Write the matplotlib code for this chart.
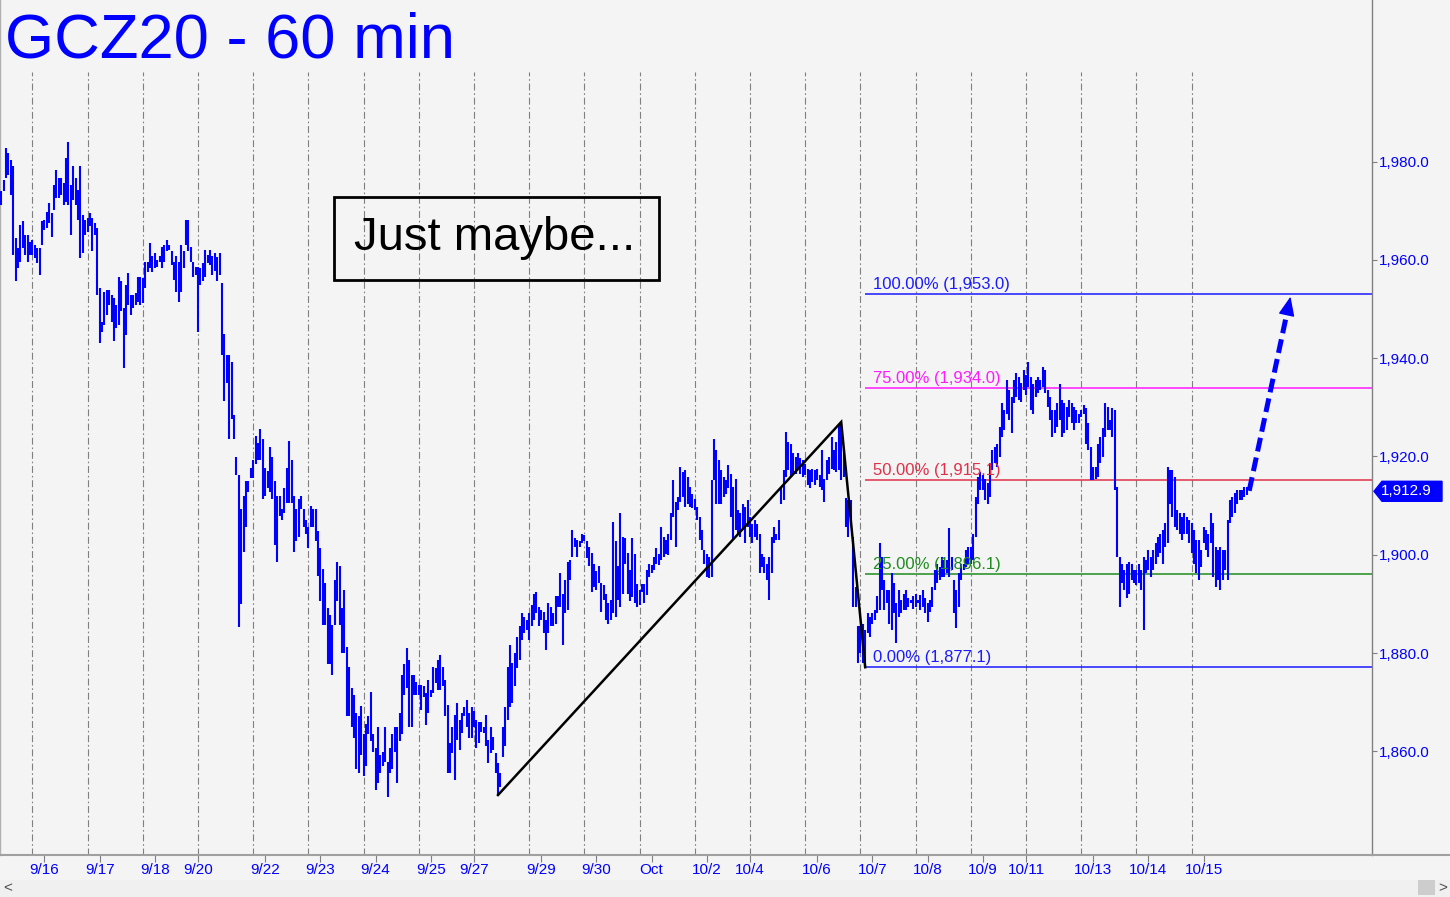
import matplotlib
matplotlib.use('Agg')
import matplotlib.pyplot as plt
import matplotlib.transforms as mtransforms
from matplotlib.ticker import FuncFormatter
from matplotlib.patches import Polygon, Rectangle
from matplotlib.lines import Line2D

plt.rcParams['font.family'] = ['Liberation Sans', 'DejaVu Sans']
plt.rcParams['lines.scale_dashes'] = False

# ---------------- data ----------------
title = "GCZ20 - 60 min"
note = "Just maybe..."

high = [
    1973.9, 1976.2, 1982.7, 1981.7, 1980.3, 1979.0, 1964.4, 1962.4, 1967.1, 1967.9,
    1965.1, 1965.1, 1963.7, 1964.0, 1963.0, 1962.4, 1962.4, 1967.8, 1968.1, 1969.8,
    1971.5, 1969.5, 1975.2, 1978.3, 1976.6, 1976.6, 1975.6, 1980.7, 1984.0, 1975.2,
    1979.0, 1976.6, 1974.2, 1979.0, 1969.1, 1968.1, 1968.5, 1969.5, 1968.5, 1967.4,
    1966.4, 1954.2, 1947.4, 1953.5, 1953.9, 1953.9, 1952.9, 1952.2, 1950.8, 1956.6,
    1955.6, 1950.1, 1954.9, 1957.3, 1952.9, 1952.9, 1953.2, 1956.6, 1956.6, 1956.2,
    1959.6, 1959.6, 1963.4, 1960.7, 1961.3, 1960.0, 1960.7, 1962.7, 1963.0, 1964.0,
    1963.0, 1961.7, 1959.6, 1960.7, 1959.6, 1963.0, 1961.7, 1968.1, 1968.1, 1962.7,
    1959.6, 1958.6, 1958.6, 1958.3, 1959.3, 1962.0, 1961.0, 1962.0, 1960.7, 1961.3,
    1960.6, 1961.3, 1955.2, 1944.9, 1940.6, 1940.6, 1939.2, 1928.5, 1919.9, 1916.3,
    1909.2, 1912.0, 1914.9, 1914.9, 1917.7, 1919.2, 1924.2, 1922.7, 1925.6, 1923.5,
    1917.7, 1917.0, 1922.0, 1919.9, 1914.9, 1912.0, 1912.0, 1909.2, 1913.5, 1917.7,
    1923.1, 1919.2, 1912.0, 1909.2, 1911.3, 1912.0, 1909.2, 1907.0, 1905.6, 1909.9,
    1909.2, 1909.2, 1904.9, 1901.3, 1897.0, 1894.2, 1889.2, 1887.8, 1885.6, 1894.9,
    1898.5, 1897.8, 1889.2, 1892.8, 1881.3, 1877.1, 1872.8, 1871.4, 1867.8, 1867.1,
    1869.2, 1863.5, 1865.6, 1867.1, 1872.1, 1863.5, 1860.6, 1864.9, 1859.2, 1859.9,
    1864.9, 1857.8, 1860.6, 1863.5, 1864.9, 1864.9, 1867.8, 1875.6, 1877.8, 1881.0,
    1878.5, 1875.6, 1875.6, 1874.2, 1873.5, 1873.5, 1873.2, 1871.8, 1874.5, 1872.5,
    1877.2, 1876.9, 1878.6, 1879.6, 1877.2, 1874.5, 1869.4, 1861.6, 1865.0, 1867.4,
    1869.8, 1866.4, 1867.7, 1869.1, 1870.4, 1867.7, 1869.1, 1868.1, 1866.4, 1866.0,
    1866.0, 1865.0, 1867.4, 1862.3, 1865.0, 1863.0, 1859.6, 1857.6, 1855.5, 1865.0,
    1869.1, 1877.2, 1881.6, 1877.9, 1879.9, 1883.3, 1885.4, 1888.1, 1887.4, 1886.7,
    1888.1, 1889.8, 1892.1, 1892.5, 1889.4, 1888.8, 1888.4, 1886.7, 1890.1, 1889.4,
    1888.1, 1891.5, 1891.5, 1896.2, 1892.1, 1894.9, 1898.6, 1898.9, 1905.0, 1903.3,
    1903.0, 1902.7, 1904.3, 1904.0, 1902.7, 1901.6, 1900.3, 1898.2, 1896.6, 1897.6,
    1894.2, 1893.8, 1892.1, 1890.1, 1890.8, 1906.7, 1902.7, 1897.6, 1908.4, 1903.7,
    1903.3, 1900.3, 1896.9, 1903.3, 1900.2, 1894.1, 1892.8, 1894.1, 1894.1, 1896.9,
    1898.2, 1897.9, 1899.6, 1901.3, 1900.2, 1905.7, 1903.6, 1903.0, 1904.3, 1908.4,
    1915.2, 1910.8, 1911.8, 1917.9, 1916.9, 1917.2, 1915.8, 1913.8, 1912.4, 1911.4,
    1909.7, 1907.7, 1905.0, 1900.9, 1900.2, 1899.6, 1915.2, 1923.6, 1921.3, 1919.2,
    1917.2, 1915.8, 1915.2, 1918.2, 1916.5, 1913.8, 1915.5, 1909.1, 1908.4, 1910.4,
    1909.7, 1911.1, 1907.7, 1906.3, 1907.0, 1906.3, 1904.3, 1900.2, 1899.6, 1898.2,
    1899.6, 1903.6, 1905.7, 1904.3, 1907.0, 1913.8, 1917.2, 1925.0, 1923.0, 1922.6,
    1920.6, 1919.9, 1920.6, 1919.6, 1919.2, 1918.5, 1917.5, 1917.2, 1917.5, 1917.2,
    1917.5, 1916.2, 1921.3, 1915.5, 1919.2, 1919.9, 1924.0, 1921.3, 1923.0, 1926.4,
    1927.0, 1921.3, 1911.5, 1911.1, 1911.1, 1903.7, 1893.5, 1885.4, 1885.4, 1886.0,
    1884.7, 1888.1, 1887.4, 1888.1, 1888.7, 1891.5, 1902.3, 1899.6, 1894.8, 1892.8,
    1892.8, 1896.2, 1894.2, 1890.1, 1892.8, 1890.8, 1892.1, 1892.8, 1891.1, 1890.8,
    1891.5, 1892.1, 1890.8, 1891.8, 1892.8, 1891.1, 1890.1, 1890.8, 1893.5, 1896.9,
    1898.2, 1897.5, 1899.6, 1898.9, 1898.9, 1905.4, 1899.6, 1894.8, 1892.8, 1896.2,
    1898.2, 1898.2, 1901.0, 1901.6, 1901.6, 1904.3, 1911.8, 1915.9, 1916.9, 1916.2,
    1915.5, 1914.5, 1918.6, 1921.3, 1922.0, 1922.6, 1926.0, 1930.8, 1929.4, 1935.5,
    1933.5, 1932.1, 1935.5, 1936.9, 1936.2, 1935.0, 1937.6, 1936.5, 1939.3, 1936.2,
    1934.8, 1935.5, 1936.2, 1935.5, 1938.2, 1937.6, 1933.5, 1932.1, 1929.4, 1929.4,
    1930.8, 1934.8, 1931.5, 1930.8, 1930.1, 1931.5, 1930.8, 1930.1, 1929.4, 1928.7,
    1929.4, 1930.4, 1929.8, 1926.7, 1922.0, 1917.9, 1917.9, 1922.6, 1924.0, 1925.7,
    1930.8, 1930.1, 1927.4, 1929.8, 1929.4, 1913.8, 1899.6, 1898.2, 1896.9, 1898.2,
    1898.6, 1898.2, 1896.9, 1896.9, 1898.2, 1896.9, 1899.6, 1898.9, 1900.9, 1899.6,
    1900.9, 1902.3, 1903.7, 1904.3, 1905.0, 1906.4, 1917.9, 1917.2, 1917.2, 1915.9,
    1909.1, 1908.4, 1907.7, 1908.4, 1907.7, 1907.1, 1906.4, 1905.0, 1903.0, 1903.0,
    1900.9, 1905.7, 1905.0, 1904.3, 1908.4, 1906.4, 1901.6, 1900.9, 1901.6, 1900.9,
    1900.9, 1907.1, 1911.1, 1911.8, 1912.5, 1913.1, 1913.1, 1913.1, 1913.8, 1913.8,
]

low = [
    1971.2, 1973.9, 1976.6, 1977.3, 1973.2, 1961.0, 1955.6, 1958.3, 1959.6, 1962.4,
    1961.0, 1959.6, 1961.0, 1961.0, 1960.3, 1959.3, 1956.9, 1963.0, 1966.1, 1966.4,
    1967.4, 1964.7, 1970.2, 1972.5, 1972.5, 1973.2, 1971.2, 1971.8, 1971.2, 1965.1,
    1972.2, 1971.2, 1968.1, 1960.3, 1961.3, 1965.1, 1965.7, 1966.8, 1961.7, 1965.1,
    1952.9, 1943.0, 1945.4, 1946.8, 1948.8, 1950.8, 1947.4, 1943.4, 1946.1, 1946.8,
    1949.5, 1937.9, 1944.7, 1950.8, 1948.8, 1950.1, 1950.8, 1951.5, 1950.8, 1951.2,
    1954.2, 1957.6, 1958.3, 1957.6, 1958.3, 1958.6, 1959.6, 1958.3, 1959.6, 1961.7,
    1962.0, 1959.0, 1955.9, 1953.5, 1951.5, 1953.5, 1958.3, 1963.0, 1961.7, 1959.6,
    1956.6, 1956.9, 1945.4, 1954.9, 1955.6, 1956.6, 1959.3, 1959.0, 1956.9, 1957.7,
    1955.6, 1957.0, 1940.6, 1931.3, 1934.9, 1923.5, 1927.7, 1923.5, 1916.3, 1885.3,
    1889.9, 1900.6, 1905.6, 1912.8, 1915.6, 1915.6, 1918.5, 1919.2, 1919.2, 1911.3,
    1912.0, 1913.5, 1912.8, 1911.3, 1902.0, 1898.5, 1907.8, 1907.0, 1908.5, 1910.6,
    1910.6, 1910.6, 1900.6, 1902.8, 1903.5, 1909.2, 1905.6, 1904.2, 1901.3, 1905.6,
    1905.6, 1902.8, 1895.6, 1890.6, 1885.6, 1885.6, 1877.8, 1877.8, 1875.6, 1885.6,
    1890.6, 1885.6, 1879.9, 1879.9, 1867.1, 1867.1, 1864.9, 1862.8, 1856.4, 1855.6,
    1859.2, 1854.9, 1857.1, 1863.5, 1862.1, 1859.9, 1852.1, 1853.5, 1855.6, 1857.1,
    1857.8, 1850.7, 1855.6, 1856.4, 1859.9, 1853.5, 1862.1, 1863.5, 1871.4, 1872.8,
    1864.9, 1864.9, 1871.4, 1871.4, 1871.4, 1868.5, 1871.1, 1865.4, 1867.7, 1871.1,
    1871.8, 1873.8, 1872.5, 1872.5, 1873.2, 1867.1, 1855.5, 1855.5, 1859.6, 1854.2,
    1862.3, 1860.3, 1863.7, 1867.1, 1865.0, 1862.7, 1862.7, 1865.0, 1860.6, 1861.6,
    1864.0, 1863.7, 1861.0, 1857.6, 1859.6, 1860.3, 1855.5, 1851.1, 1852.8, 1858.9,
    1861.0, 1866.4, 1869.1, 1869.8, 1873.2, 1876.9, 1878.6, 1882.7, 1884.0, 1884.7,
    1882.7, 1885.4, 1886.7, 1888.1, 1885.4, 1886.7, 1884.0, 1880.6, 1884.0, 1885.4,
    1885.4, 1886.0, 1889.4, 1889.4, 1881.6, 1888.1, 1888.8, 1894.9, 1899.6, 1901.6,
    1899.6, 1901.6, 1902.3, 1902.7, 1899.3, 1897.6, 1892.5, 1893.5, 1892.8, 1894.2,
    1888.4, 1890.8, 1886.7, 1886.0, 1886.7, 1888.1, 1887.4, 1890.8, 1889.4, 1892.1,
    1898.2, 1892.1, 1890.5, 1891.4, 1890.1, 1889.4, 1889.7, 1892.5, 1890.1, 1891.8,
    1895.5, 1896.2, 1896.9, 1898.2, 1897.9, 1898.9, 1899.6, 1900.2, 1899.9, 1903.0,
    1907.7, 1901.6, 1909.1, 1910.8, 1911.8, 1909.7, 1910.4, 1909.7, 1909.4, 1909.1,
    1907.0, 1903.0, 1900.9, 1898.2, 1895.5, 1895.2, 1895.5, 1915.2, 1910.4, 1910.4,
    1910.4, 1911.8, 1912.4, 1913.5, 1907.7, 1903.0, 1905.0, 1904.3, 1903.6, 1905.0,
    1902.3, 1905.7, 1903.6, 1902.3, 1903.6, 1903.0, 1896.2, 1897.5, 1896.2, 1894.8,
    1890.8, 1896.2, 1902.3, 1903.0, 1903.0, 1910.4, 1911.1, 1915.8, 1917.2, 1915.8,
    1916.2, 1916.5, 1917.5, 1916.5, 1915.8, 1916.2, 1914.1, 1913.5, 1914.8, 1914.1,
    1915.2, 1913.8, 1913.1, 1910.8, 1915.2, 1916.5, 1917.5, 1917.2, 1916.9, 1917.2,
    1915.2, 1915.9, 1905.7, 1903.7, 1906.4, 1889.4, 1889.4, 1877.9, 1880.0, 1877.9,
    1877.1, 1884.0, 1883.3, 1886.0, 1886.7, 1888.1, 1888.7, 1892.8, 1888.7, 1890.1,
    1886.0, 1884.7, 1888.1, 1882.0, 1887.4, 1888.1, 1888.7, 1888.7, 1889.4, 1890.1,
    1889.0, 1889.4, 1890.1, 1888.7, 1889.4, 1888.1, 1886.4, 1888.4, 1889.4, 1892.8,
    1894.2, 1894.8, 1895.5, 1895.5, 1896.2, 1895.5, 1896.9, 1888.1, 1885.0, 1889.4,
    1894.8, 1896.9, 1897.5, 1898.2, 1898.2, 1898.9, 1903.7, 1910.4, 1913.2, 1913.2,
    1911.1, 1910.4, 1911.8, 1917.2, 1918.6, 1917.9, 1919.9, 1924.0, 1925.4, 1928.7,
    1927.4, 1924.7, 1930.8, 1932.1, 1931.5, 1931.0, 1933.5, 1932.5, 1934.2, 1929.4,
    1928.7, 1932.1, 1932.8, 1933.5, 1934.2, 1932.8, 1930.1, 1927.4, 1924.0, 1924.7,
    1926.0, 1927.4, 1924.0, 1924.7, 1925.4, 1928.1, 1926.7, 1925.4, 1926.7, 1926.7,
    1928.1, 1928.7, 1922.6, 1921.3, 1915.2, 1915.2, 1915.5, 1915.9, 1918.6, 1919.9,
    1924.0, 1925.4, 1925.4, 1924.0, 1913.1, 1899.6, 1889.4, 1894.2, 1892.8, 1891.1,
    1892.1, 1894.8, 1894.2, 1893.8, 1894.2, 1892.8, 1884.7, 1896.2, 1896.9, 1895.5,
    1896.9, 1898.2, 1899.6, 1900.3, 1898.2, 1901.6, 1902.3, 1910.4, 1907.7, 1905.7,
    1905.0, 1904.3, 1903.0, 1904.3, 1904.3, 1902.3, 1900.3, 1898.2, 1896.2, 1894.8,
    1897.5, 1902.3, 1900.9, 1899.6, 1902.3, 1895.5, 1893.5, 1894.8, 1892.8, 1894.8,
    1896.9, 1894.8, 1906.4, 1907.7, 1908.4, 1910.4, 1911.1, 1911.1, 1911.8, 1912.2,
]

last_price = 1912.9

date_pos = [18, 41, 64, 82, 110, 133, 156, 179, 197, 225, 248, 271, 294, 312,
            340, 363, 386, 409, 427, 455, 478, 501]
date_lbl = ['9/16', '9/17', '9/18', '9/20', '9/22', '9/23', '9/24', '9/25', '9/27',
            '9/29', '9/30', 'Oct', '10/2', '10/4', '10/6', '10/7', '10/8', '10/9',
            '10/11', '10/13', '10/14', '10/15']
grid_pos = [13 + 23 * k for k in range(22)]

price_ticks = [1860, 1880, 1900, 1920, 1940, 1960, 1980]

abc_x = [207, 350, 360]
abc_p = [1851.1, 1927.0, 1877.1]

fib_pct = ['100.00%', '75.00%', '50.00%', '25.00%', '0.00%']
fib_val = [1953.0, 1934.0, 1915.1, 1896.1, 1877.1]
fib_col = ['#1A1AFF', '#FF1AFF', '#E03048', '#1E8C1E', '#1A1AFF']

proj_x = [520.0, 535.7, 537.2]
proj_p = [1913.0, 1949.1, 1952.5]

# ---------------- layout ----------------
W, H = 1450, 897
BG = '#F4F4F4'
BLUE = '#0000FF'
fig = plt.figure(figsize=(W / 100, H / 100), dpi=100)
fig.patch.set_facecolor(BG)

ax_bottom_px = 855
ax_right_px = 1372
ax = fig.add_axes([0, (H - ax_bottom_px) / H, ax_right_px / W, ax_bottom_px / H])
ax.set_facecolor(BG)

# px per bar = 2.4, px per price unit = 4.915
x_left = -0.5
x_right = (ax_right_px - 1.2) / 2.4
y_top = 1980 + 161.5 / 4.915
y_bot = 1980 - (ax_bottom_px - 161.5) / 4.915
ax.set_xlim(x_left, x_right)
ax.set_ylim(y_bot, y_top)

# grid (vertical dashed)
grid_top = 1980 + (161.5 - 72) / 4.915
ax.vlines(grid_pos, y_bot, grid_top, colors='#808080', linewidth=0.8,
          linestyles=(0, (5, 2, 1.2, 2)), zorder=1)

# price bars
ax.vlines(range(len(high)), low, high, colors=BLUE, linewidth=1.5, zorder=3)

# ABC lines
ax.plot(abc_x, abc_p, color='black', linewidth=1.8, zorder=4, solid_joinstyle='miter')

# fib projection lines
lbl_off = mtransforms.offset_copy(ax.transData, fig=fig, x=0, y=5, units='dots')
for pct, v, c in zip(fib_pct, fib_val, fib_col):
    ax.hlines(v, abc_x[2], x_right, colors=c, linewidth=1.1, zorder=2)
    ax.text(abc_x[2] + 3.2, v, f"{pct} ({v:,.1f})", color=c, fontsize=12,
            va='baseline', ha='left', transform=lbl_off, zorder=5)

# projected dashed arrow
ax.plot(proj_x[:2], proj_p[:2], color=BLUE, linewidth=3.6,
        linestyle=(0, (10, 4.5)), dash_capstyle='butt', zorder=6)
ax.annotate('', xy=(proj_x[2], proj_p[2]), xytext=(proj_x[1], proj_p[1]),
            arrowprops=dict(arrowstyle='-|>,head_length=0.85,head_width=0.36',
                            mutation_scale=14, fc=BLUE, ec=BLUE, lw=1,
                            shrinkA=0, shrinkB=0), zorder=6)

# axes styling
ax.spines['top'].set_visible(False)
ax.spines['left'].set_color('#B0B0B0')
ax.spines['left'].set_linewidth(1.0)
ax.spines['right'].set_color('#808080')
ax.spines['right'].set_linewidth(1.0)
ax.spines['bottom'].set_visible(False)

ax.yaxis.tick_right()
ax.set_yticks(price_ticks)
ax.yaxis.set_major_formatter(FuncFormatter(lambda v, p: f"{v:,.1f}"))
ax.tick_params(axis='y', direction='out', length=3.6, width=0.8, color='#808080',
               labelcolor=BLUE, labelsize=11, pad=1.5)
ax.set_xticks(date_pos)
ax.set_xticklabels(date_lbl)
ax.tick_params(axis='x', direction='out', length=5, width=0.8, color='#808080',
               labelcolor=BLUE, labelsize=11, pad=1)

# bottom axis line across full width
fig.add_artist(Line2D([0, 1], [(H - ax_bottom_px) / H] * 2, transform=fig.transFigure,
                      color='#A0A0A0', linewidth=1.5))

# last price marker
bt = mtransforms.blended_transform_factory(fig.transFigure, ax.transData)
hh = 10 / 4.915
marker = Polygon([(1374 / W, last_price), (1382 / W, last_price + hh),
                  (1442 / W, last_price + hh), (1442 / W, last_price - hh),
                  (1382 / W, last_price - hh)], closed=True, transform=bt,
                 facecolor=BLUE, edgecolor=BLUE, clip_on=False, zorder=7)
fig.add_artist(marker)
fig.text(1381 / W, 0, f"{last_price:,.1f}", transform=bt, color='white', fontsize=11,
         va='center', ha='left', zorder=8).set_y(last_price)

# title
fig.text(5 / W, 1 - 58 / H, title, fontsize=45.5, color=BLUE, va='baseline', ha='left')

# note box
fig.add_artist(Rectangle((334 / W, 1 - 280 / H), 325 / W, 83 / H, transform=fig.transFigure,
                         fill=False, edgecolor='black', linewidth=2))
fig.text(495 / W, 1 - 250 / H, note, fontsize=34, color='black', va='baseline', ha='center')

# scrollbar strip
fig.add_artist(Rectangle((0, 0), 1, 17 / H, transform=fig.transFigure,
                         facecolor='#F0F0F0', edgecolor='none'))
fig.add_artist(Rectangle((1418 / W, 2 / H), 17 / W, 15 / H, transform=fig.transFigure,
                         facecolor='#CDCDCD', edgecolor='none'))
fig.text(8 / W, 9 / H, '<', fontsize=11, color='#505050', va='center', ha='center')
fig.text(1443 / W, 9 / H, '>', fontsize=11, color='#505050', va='center', ha='center')

fig.savefig('out.png', dpi=100, facecolor=BG)
